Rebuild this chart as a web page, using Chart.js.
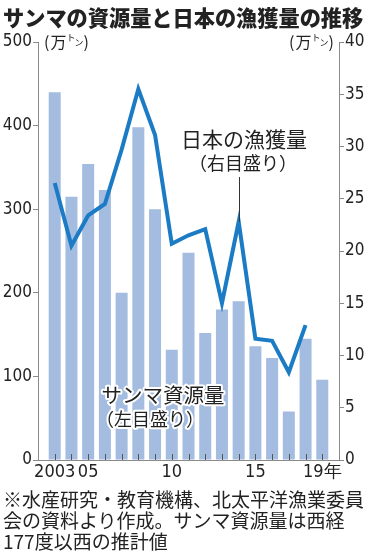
<!DOCTYPE html>
<html>
<head>
<meta charset="utf-8">
<script src="https://cdn.jsdelivr.net/npm/chart.js@4"></script>
<style>
  body { margin: 0; background: #fff; }
  #wrap { position: relative; width: 370px; height: 554px; overflow: hidden; }
  #chart { position: absolute; left: 0; top: 0; }
  #title { position: absolute; left: 3px; top: 1px; font: 900 21.2px "Noto Sans CJK JP"; color: #222; white-space: nowrap; }
  #note { position: absolute; left: 3px; top: 488px; font: 19px/21px "Noto Sans CJK JP"; color: #222; white-space: nowrap; }
</style>
</head>
<body>
<div id="wrap">
  <canvas id="chart" width="370" height="554"></canvas>
  <div id="title">サンマの資源量と日本の漁獲量の推移</div>
  <div id="note">※水産研究・教育機構、北太平洋漁業委員<br>会の資料より作成。サンマ資源量は西経<br>177度以西の推計値</div>
</div>
<script>
// 年（2003〜2019）
const years = [2003, 2004, 2005, 2006, 2007, 2008, 2009, 2010, 2011, 2012, 2013, 2014, 2015, 2016, 2017, 2018, 2019];
// サンマ資源量（左目盛り、万トン）
const stock = [440, 315, 354, 323, 200, 398, 300, 132, 248, 152, 180, 190, 136, 122, 58, 145, 96];
// 日本の漁獲量（右目盛り、万トン）
const catchJp = [26.5, 20.5, 23.4, 24.5, 29.7, 35.5, 31.1, 20.7, 21.5, 22.1, 15.0, 22.8, 11.6, 11.4, 8.4, 12.9, null];
// 横軸の目盛り
const tickYears = [2003, 2005, 2010, 2015, 2019];
const tickText = ['2003', '05', '10', '15', '19年'];
const leftTicks = [0, 100, 200, 300, 400, 500];
const rightTicks = [0, 5, 10, 15, 20, 25, 30, 35, 40];

const AXIS = '#8a8a8a';
const TEXT = '#222';
const FONT = '"DejaVu Sans Condensed", "Liberation Sans Narrow", sans-serif';

// 軸の内側の目盛り線・単位・注記
const extras = {
    id: 'extras',
    afterDatasetsDraw(chart) {
        const ctx = chart.ctx;
        const x = chart.scales.x, yl = chart.scales.yl, yr = chart.scales.yr;
        const bottom = chart.chartArea.bottom;
        ctx.save();
        // 年ごとの小さい目盛り
        ctx.strokeStyle = '#555';
        ctx.lineWidth = 1;
        years.forEach(y => {
            const px = Math.round(x.getPixelForValue(y)) + 0.5;
            ctx.beginPath();
            ctx.moveTo(px, bottom);
            ctx.lineTo(px, bottom - 6);
            ctx.stroke();
        });

        // 単位（万ﾄﾝ）
        const unit = (sx, cy) => {
            ctx.fillStyle = TEXT;
            ctx.textBaseline = 'middle';
            ctx.textAlign = 'left';
            ctx.font = '16px "Noto Sans CJK JP"';
            let cx = sx;
            ctx.fillText('(', cx, cy); cx += ctx.measureText('(').width + 1;
            ctx.fillText('万', cx, cy); cx += ctx.measureText('万').width;
            ctx.font = '9px "Noto Sans CJK JP"';
            ctx.fillText('ト', cx, cy - 4); cx += ctx.measureText('ト').width - 1;
            ctx.fillText('ン', cx, cy + 1); cx += ctx.measureText('ン').width;
            ctx.font = '16px "Noto Sans CJK JP"';
            ctx.fillText(')', cx, cy);
        };
        unit(44, yl.getPixelForValue(500));
        unit(289, yr.getPixelForValue(40));

        // 日本の漁獲量の引き出し線
        const lx = Math.round(x.getPixelForValue(2014)) + 0.5;
        ctx.strokeStyle = '#333';
        ctx.beginPath();
        ctx.moveTo(lx, 177);
        ctx.lineTo(lx, yr.getPixelForValue(catchJp[years.indexOf(2014)]));
        ctx.stroke();

        ctx.textAlign = 'center';
        ctx.textBaseline = 'middle';
        ctx.fillStyle = TEXT;
        ctx.font = '21px "Noto Sans CJK JP"';
        ctx.fillText('日本の漁獲量', 244, 139);
        ctx.font = '18px "Noto Sans CJK JP"';
        ctx.fillText('（右目盛り）', 243, 163);

        // サンマ資源量（白縁取り）
        const halo = (t, cx, cy) => {
            ctx.lineJoin = 'round';
            ctx.lineWidth = 4;
            ctx.strokeStyle = '#fff';
            ctx.strokeText(t, cx, cy);
            ctx.fillStyle = TEXT;
            ctx.fillText(t, cx, cy);
        };
        ctx.font = '20.5px "Noto Sans CJK JP"';
        halo('サンマ資源量', 163, 395);
        ctx.font = '18px "Noto Sans CJK JP"';
        halo('（左目盛り）', 150, 419);
        ctx.restore();
    }
};

const ctx = document.getElementById('chart').getContext('2d');
new Chart(ctx, {
    type: 'bar',
    data: {
        datasets: [
            {
                type: 'line',
                label: '日本の漁獲量',
                data: years.map((y, i) => ({ x: y, y: catchJp[i] })),
                yAxisID: 'yr',
                borderColor: '#1b7cc5',
                borderWidth: 4,
                borderJoinStyle: 'miter',
                pointRadius: 0,
                tension: 0,
                spanGaps: false,
                order: 0
            },
            {
                label: 'サンマ資源量',
                data: years.map((y, i) => ({ x: y, y: stock[i] })),
                yAxisID: 'yl',
                backgroundColor: '#a3bce0',
                barPercentage: 0.72,
                categoryPercentage: 1,
                maxBarThickness: 12,
                order: 1
            }
        ]
    },
    options: {
        responsive: false,
        animation: false,
        layout: { padding: { top: 42, left: 0, right: 0, bottom: 0 } },
        plugins: {
            legend: { display: false },
            tooltip: { enabled: false }
        },
        scales: {
            x: {
                type: 'linear',
                offset: false,
                min: 2002,
                max: 2020,
                afterBuildTicks: s => { s.ticks = tickYears.map(v => ({ value: v })); },
                afterFit: s => { s.height = 94; },
                grid: { display: false, drawTicks: false, offset: false },
                border: { display: true, color: AXIS, width: 1 },
                ticks: {
                    autoSkip: false,
                    maxRotation: 0,
                    padding: 2,
                    color: TEXT,
                    font: { family: FONT, size: 18 },
                    callback: v => tickText[tickYears.indexOf(v)]
                }
            },
            yl: {
                position: 'left',
                min: 0,
                max: 500,
                afterBuildTicks: s => { s.ticks = leftTicks.map(v => ({ value: v })); },
                afterFit: s => { s.width = 38; },
                grid: { drawOnChartArea: false, tickLength: 5, color: AXIS },
                border: { display: true, color: AXIS, width: 1 },
                ticks: { padding: 1, color: TEXT, font: { family: FONT, size: 17 } }
            },
            yr: {
                position: 'right',
                min: 0,
                max: 40,
                afterBuildTicks: s => { s.ticks = rightTicks.map(v => ({ value: v })); },
                afterFit: s => { s.width = 31; },
                grid: { drawOnChartArea: false, tickLength: 5, color: AXIS },
                border: { display: true, color: AXIS, width: 1 },
                ticks: { padding: 1, color: TEXT, font: { family: FONT, size: 17 } }
            }
        }
    },
    plugins: [extras]
});
</script>
</body>
</html>
